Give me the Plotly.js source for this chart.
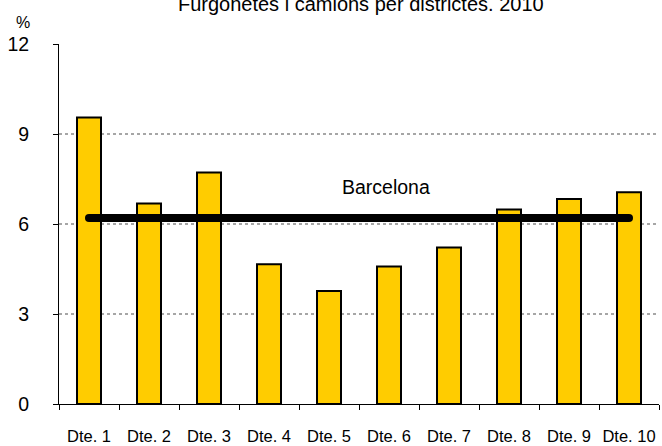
<!DOCTYPE html>
<html><head><meta charset="utf-8">
<script src="https://cdn.plot.ly/plotly-3.0.1.min.js"></script>
<style>html,body{margin:0;padding:0;background:#fff}</style>
</head><body><div id="chart" style="width:662px;height:446px"></div>
<script>
const categories = ["Dte. 1","Dte. 2","Dte. 3","Dte. 4","Dte. 5","Dte. 6","Dte. 7","Dte. 8","Dte. 9","Dte. 10"];
const values = [9.55, 6.68, 7.72, 4.66, 3.77, 4.58, 5.22, 6.48, 6.83, 7.06];
const barcelonaValue = 6.2;
const barcelonaLabel = "Barcelona";
const yTicks = [0, 3, 6, 9, 12];
const titleText = "Furgonetes i camions per districtes. 2010";

const font = "Liberation Sans";
const lineEnds = [categories[0], categories[categories.length-1]];
const traces = [
  {type: "bar", x: categories, y: values, width: 0.4,
   marker: {color: "#FFCC00", line: {color: "#000", width: 2}}, hoverinfo: "none"},
  {type: "scatter", mode: "lines+markers", x: lineEnds,
   y: lineEnds.map(() => barcelonaValue),
   line: {color: "#000", width: 8},
   marker: {color: "#000", size: 8, symbol: "circle", line: {width: 0}}, hoverinfo: "none"}
];
const layout = {
  width: 662, height: 446,
  margin: {l: 59, r: 3, t: 44, b: 42},
  showlegend: false,
  paper_bgcolor: "#fff", plot_bgcolor: "#fff",
  font: {family: font, color: "#000"},
  title: {text: titleText, font: {size: 20, family: font, color: "#000"},
          x: 0.545, xanchor: "center", yref: "container", y: 0.9915, yanchor: "middle"},
  xaxis: {type: "category", tickson: "boundaries", ticks: "outside", ticklen: 5,
          tickcolor: "#000", showline: true, linecolor: "#000", linewidth: 1,
          showgrid: false, tickfont: {size: 16.5, family: font}, range: [-0.5, 9.5],
          tickangle: 0, ticklabelstandoff: 17, automargin: false},
  yaxis: {range: [0, 12], tickvals: yTicks, ticks: "outside", ticklen: 5,
          tickcolor: "#000", showline: true, linecolor: "#000", linewidth: 1,
          showgrid: true, gridcolor: "#a6a6a6", gridwidth: 2, griddash: "dot",
          zeroline: false, tickfont: {size: 19.5, family: font},
          ticklabelstandoff: 20, automargin: false},
  annotations: [
    {text: "%", xref: "paper", yref: "paper", x: -0.075, y: 1.09, showarrow: false,
     font: {size: 16, family: font}},
    {text: barcelonaLabel, xref: "paper", yref: "y", x: 0.545, y: barcelonaValue + 1.05,
     showarrow: false, font: {size: 19.5, family: font}}
  ]
};
Plotly.newPlot("chart", traces, layout, {staticPlot: true});
</script></body></html>
